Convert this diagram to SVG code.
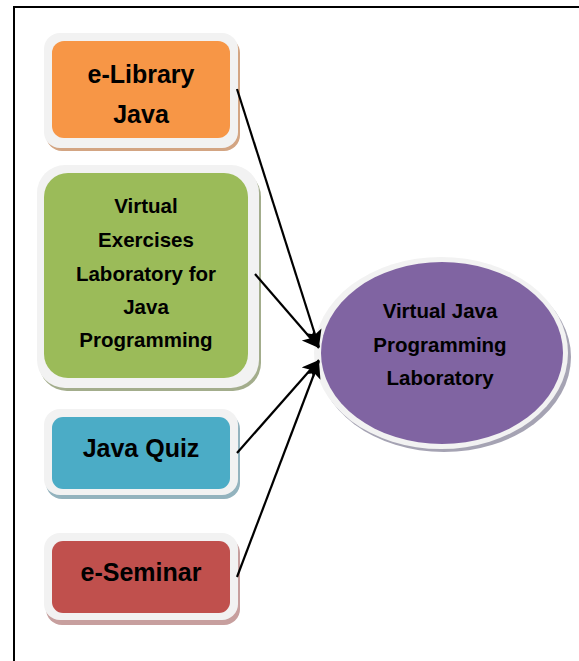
<svg xmlns="http://www.w3.org/2000/svg" width="579" height="661" viewBox="0 0 579 661">
<defs>
<style>
.frame{fill:#ffffff;stroke:#000;stroke-width:2}
.outer{fill:#f2f2f2}
.lbl{font-family:"Liberation Sans",Arial,sans-serif;font-weight:bold;fill:#000;text-anchor:middle}
.big{font-size:25px}
.sm{font-size:20.5px}
.conn{stroke:#000;stroke-width:2.2;fill:none;marker-end:url(#ah)}
</style>
<marker id="ah" markerUnits="userSpaceOnUse" markerWidth="20" markerHeight="18" refX="17" refY="8" orient="auto">
<path d="M0,0 L17,8 L0,16 L4,8 z" fill="#000"/>
</marker>
</defs>
<rect class="frame" x="14" y="7" width="580" height="670"/>

<g id="elibrary">
<rect x="46" y="37" width="194" height="114" rx="16" fill="#d3a583"/>
<rect class="outer" x="44" y="33" width="194" height="115" rx="16"/>
<rect x="52" y="41" width="178" height="97" rx="12" fill="#f79646"/>
<text class="lbl big" x="141" y="83">e-Library</text>
<text class="lbl big" x="141" y="123">Java</text>
</g>

<g id="vel">
<rect x="39" y="169" width="222" height="222" rx="28" fill="#a3ad8c"/>
<rect class="outer" x="37" y="165" width="222" height="223" rx="28"/>
<rect x="44" y="173" width="204" height="205" rx="24" fill="#9bbb59"/>
<text class="lbl sm" x="146" y="213">Virtual</text>
<text class="lbl sm" x="146" y="247">Exercises</text>
<text class="lbl sm" x="146" y="281">Laboratory for</text>
<text class="lbl sm" x="146" y="314">Java</text>
<text class="lbl sm" x="146" y="347">Programming</text>
</g>

<g id="quiz">
<rect x="46" y="413" width="194" height="86" rx="16" fill="#93b3be"/>
<rect class="outer" x="44" y="409" width="194" height="86" rx="16"/>
<rect x="52" y="417" width="178" height="72" rx="11" fill="#4bacc6"/>
<text class="lbl big" x="141" y="457">Java Quiz</text>
</g>

<g id="seminar">
<rect x="46" y="537" width="194" height="88" rx="16" fill="#c79f9e"/>
<rect class="outer" x="44" y="533" width="194" height="87" rx="16"/>
<rect x="52" y="541" width="178" height="72" rx="11" fill="#c0504d"/>
<text class="lbl big" x="141" y="581">e-Seminar</text>
</g>

<g id="vjpl">
<ellipse cx="444" cy="357" rx="127" ry="95" fill="#a5a3b3"/>
<ellipse class="outer" cx="441" cy="353" rx="127" ry="96"/>
<ellipse cx="442" cy="353" rx="121" ry="91" fill="#8064a2"/>
<text class="lbl sm" x="440" y="318">Virtual Java</text>
<text class="lbl sm" x="440" y="352">Programming</text>
<text class="lbl sm" x="440" y="385">Laboratory</text>
</g>

<g id="connectors">
<line class="conn" x1="237" y1="89" x2="319" y2="347"/>
<line class="conn" x1="255" y1="274" x2="319" y2="348"/>
<line class="conn" x1="237" y1="453" x2="319" y2="360"/>
<line class="conn" x1="237" y1="577" x2="319" y2="361"/>
</g>
</svg>
